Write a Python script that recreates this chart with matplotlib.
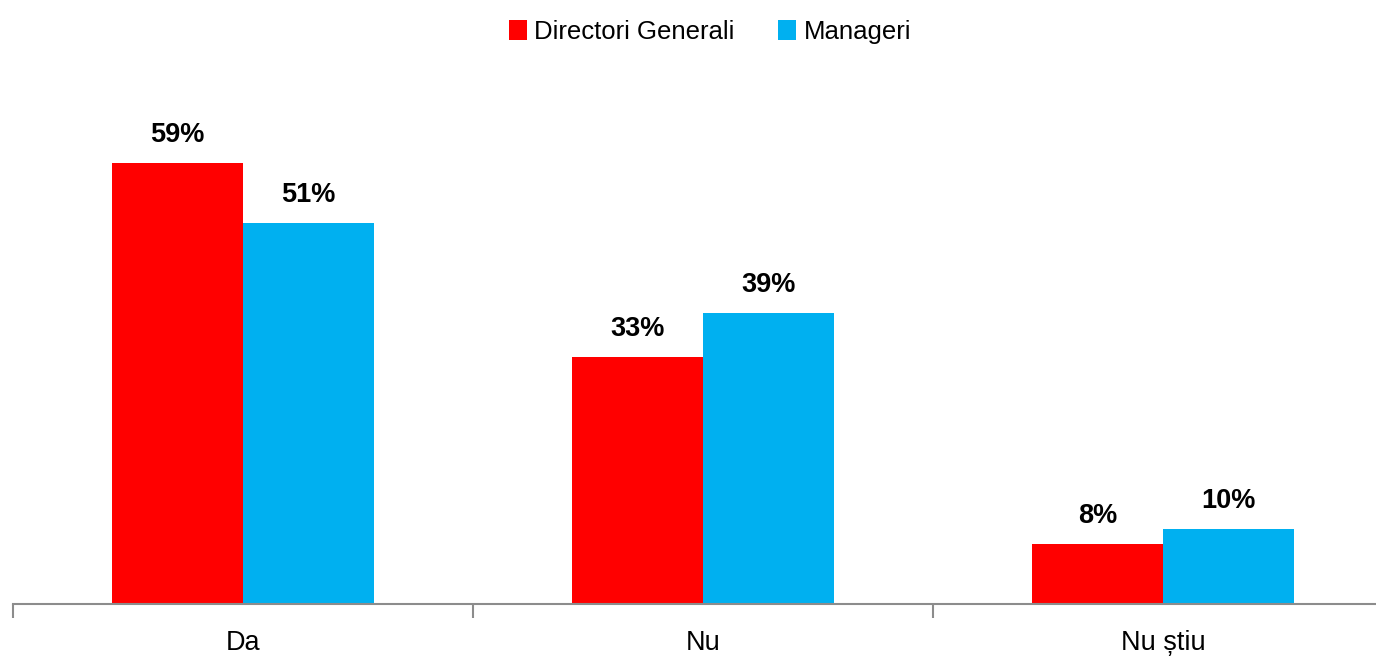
import matplotlib.pyplot as plt
import numpy as np
from matplotlib import font_manager

categorii = ['Da', 'Nu', 'Nu știu']
directori = [59, 33, 8]
manageri = [51, 39, 10]
serii = ['Directori Generali', 'Manageri']

names = {f.name for f in font_manager.fontManager.ttflist}
fam = ['Liberation Sans Narrow', 'Liberation Sans', 'DejaVu Sans'] if 'Liberation Sans Narrow' in names else ['Liberation Sans', 'DejaVu Sans']
plt.rcParams['font.family'] = fam

fig = plt.figure(figsize=(13.76, 6.59), dpi=100)
# axes extends a bit past the right edge, like the original
ax = fig.add_axes([13 / 1376, (659 - 604) / 659, 1380 / 1376, (604 - 60) / 659])

x = np.arange(len(categorii))
w = 0.285
b1 = ax.bar(x - w / 2, directori, w, color='#FF0000', label=serii[0])
b2 = ax.bar(x + w / 2, manageri, w, color='#00B0F0', label=serii[1])

for bars in (b1, b2):
    for r in bars:
        ax.text(r.get_x() + r.get_width() / 2, r.get_height() + 2.0, f'{r.get_height():.0f}%',
                ha='center', va='bottom', fontsize=19.5, fontweight='bold')

ax.set_xlim(-0.5, 2.5)
ax.set_ylim(0, 72.8)
ax.set_yticks([])
for s in ['top', 'right', 'left']:
    ax.spines[s].set_visible(False)
ax.spines['bottom'].set_color('#8C8C8C')
ax.spines['bottom'].set_linewidth(1.5)
ax.set_xticks([-0.5, 0.5, 1.5, 2.5], minor=False)
ax.set_xticklabels([])
ax.tick_params(axis='x', length=10, width=1.5, color='#8C8C8C')
ax.set_xticks(x, minor=True)
ax.set_xticklabels(categorii, minor=True, fontsize=19.5)
ax.tick_params(axis='x', which='minor', length=0, pad=19)

fig.legend(handles=[b1, b2], loc='upper center', bbox_to_anchor=(0.516, 1.005), ncol=2,
           frameon=False, fontsize=18.5, handlelength=0.7, handleheight=0.8,
           handletextpad=0.3, columnspacing=1.7)

fig.savefig('out.png', dpi=100)
